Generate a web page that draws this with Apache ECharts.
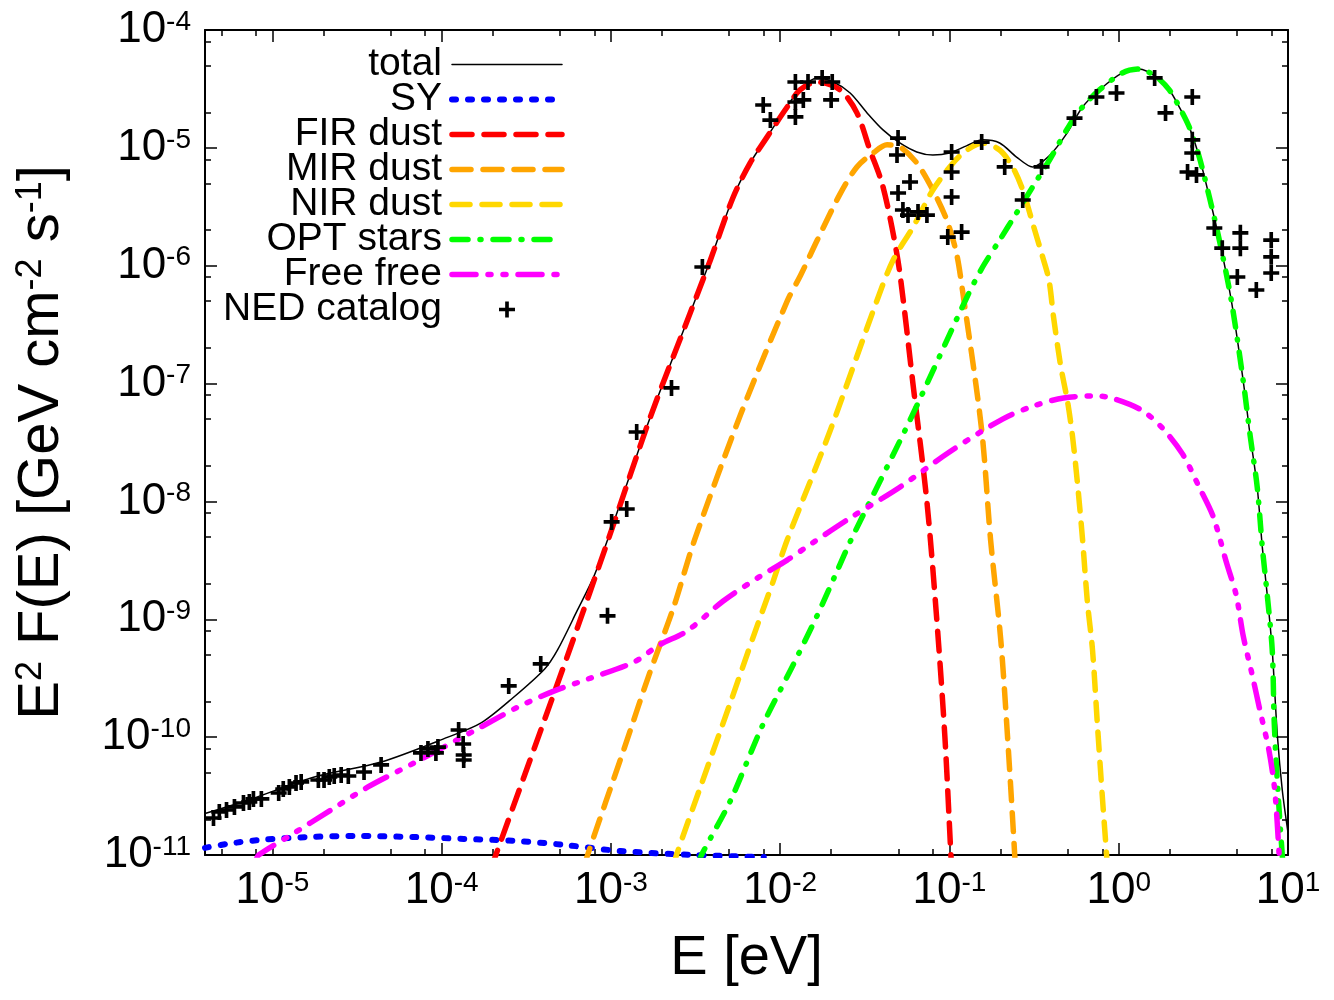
<!DOCTYPE html>
<html>
<head>
<meta charset="utf-8">
<script src="https://cdn.jsdelivr.net/npm/echarts@6.0.0/dist/echarts.min.js"></script>
<style>
  html, body { margin: 0; padding: 0; background: #fff; }
  #chart { width: 1334px; height: 1000px; }
</style>
</head>
<body>
<div id="chart"></div>
<script>
// values, [E (eV), E^2 F(E) (GeV cm^-2 s^-1)]
const totalCurve = [
  [4.0e-6, 2.25e-11], [7.23e-6, 2.93e-11], [1.77e-5, 4.59e-11], [4.39e-5, 6.15e-11],
  [1.09e-4, 1.0e-10], [1.71e-4, 1.32e-10], [2.67e-4, 2.19e-10], [4.06e-4, 3.79e-10],
  [4.84e-4, 5.5e-10], [6.35e-4, 1.2e-9], [7.91e-4, 2.29e-9], [9.55e-4, 4.71e-9],
  [1.71e-3, 5.2e-8], [2.94e-3, 3.97e-7], [3.87e-3, 1.12e-6], [5.28e-3, 3.83e-6],
  [6.65e-3, 7.45e-6], [8.38e-3, 1.24e-5], [1.1e-2, 2.25e-5], [1.31e-2, 3.15e-5],
  [1.65e-2, 3.92e-5], [2.06e-2, 3.62e-5], [2.59e-2, 2.92e-5], [3.26e-2, 1.98e-5],
  [4.05e-2, 1.42e-5], [5.09e-2, 1.1e-5], [6.41e-2, 9.23e-6], [7.98e-2, 8.69e-6],
  [0.1, 9.04e-6], [0.126, 1.04e-5], [0.157, 1.17e-5], [0.198, 1.1e-5],
  [0.249, 8.36e-6], [0.31, 6.88e-6], [0.39, 8.6e-6], [0.489, 1.3e-5],
  [0.611, 2.22e-5], [0.769, 3.1e-5], [1.05, 4.32e-5], [1.32, 4.67e-5],
  [1.67, 3.99e-5], [1.99, 3.1e-5], [2.28, 2.22e-5], [2.61, 1.5e-5],
  [2.99, 8.36e-6], [3.43, 3.83e-6], [3.93, 1.65e-6], [4.62, 5.12e-7],
  [5.43, 1.07e-7], [5.98, 3.59e-8], [6.58, 1.32e-8], [7.05, 4.1e-9],
  [7.54, 1.61e-9], [8.07, 5.48e-10], [8.65, 1.04e-10], [9.25, 3.56e-11], [10, 1.55e-11]
];

const syCurve = [
  [4.0e-6, 1.15e-11], [5.36e-6, 1.24e-11], [8.39e-6, 1.34e-11], [1.63e-5, 1.42e-11],
  [3.04e-5, 1.45e-11], [6.87e-5, 1.42e-11], [1.35e-4, 1.37e-11], [2.67e-4, 1.32e-11],
  [5.26e-4, 1.22e-11], [1.14e-3, 1.08e-11], [3.12e-3, 1.0e-11], [8.0e-3, 9.6e-12]
];

const firCurve = [
  [1.95e-4, 7.6e-12], [2.09e-4, 1.0e-11], [5.78e-4, 5.82e-10], [9.95e-4, 5.4e-9],
  [1.71e-3, 5.2e-8], [2.94e-3, 3.97e-7], [3.87e-3, 1.12e-6], [5.28e-3, 3.83e-6],
  [6.65e-3, 7.45e-6], [8.38e-3, 1.24e-5], [1.1e-2, 2.22e-5], [1.31e-2, 3.1e-5],
  [1.65e-2, 3.62e-5], [2.26e-2, 3.1e-5], [2.84e-2, 1.98e-5], [3.39e-2, 9.59e-6],
  [3.99e-2, 5.04e-6], [4.57e-2, 2.13e-6], [5.09e-2, 8.67e-7], [6.08e-2, 1.01e-7],
  [7.35e-2, 1.01e-8], [8.41e-2, 1.01e-9], [9.4e-2, 1.0e-10], [0.102, 1.0e-11], [0.104, 6e-12]
];

const mirCurve = [
  [7.0e-4, 8e-12], [7.28e-4, 1.0e-11], [1.19e-3, 7.78e-11], [1.67e-3, 3.3e-10],
  [2.34e-3, 1.25e-9], [3.12e-3, 4.71e-9], [5.82e-3, 5.41e-8], [1.1e-2, 5.0e-7],
  [1.32e-2, 8.3e-7], [1.66e-2, 1.66e-6], [2.26e-2, 4.07e-6], [2.84e-2, 6.89e-6],
  [3.54e-2, 9.04e-6], [4.28e-2, 1.06e-5], [5.09e-2, 1.02e-5], [6.41e-2, 7.45e-6],
  [7.98e-2, 4.39e-6], [9.64e-2, 2.44e-6], [0.11, 1.28e-6], [0.12, 5.87e-7],
  [0.155, 4.04e-8], [0.175, 4.71e-9], [0.201, 6.67e-10], [0.221, 9.46e-11],
  [0.243, 1.0e-11], [0.247, 6e-12]
];

const nirCurve = [
  [2.35e-3, 8e-12], [2.44e-3, 1.0e-11], [3.43e-3, 4.01e-11], [5.07e-3, 1.95e-10],
  [7.12e-3, 7.9e-10], [9.1e-3, 2.11e-9], [1.1e-2, 4.71e-9], [1.98e-2, 4.04e-8],
  [3.74e-2, 5.12e-7], [4.65e-2, 1.12e-6], [6.1e-2, 2.13e-6], [7.98e-2, 4.39e-6],
  [0.105, 7.45e-6], [0.127, 9.59e-6], [0.157, 1.1e-5], [0.198, 9.59e-6],
  [0.236, 6.88e-6], [0.271, 4.39e-6], [0.31, 2.3e-6], [0.355, 1.19e-6],
  [0.387, 7.57e-7], [0.412, 3.67e-7], [0.453, 1.44e-7], [0.499, 6.98e-8],
  [0.533, 3.59e-8], [0.571, 1.41e-8], [0.611, 4.8e-9], [0.653, 1.4e-9],
  [0.7, 5.5e-10], [0.748, 1.29e-10], [0.801, 3.05e-11], [0.847, 1.02e-11], [0.86, 7e-12]
];

const optCurve = [
  [3.3e-3, 8.5e-12], [3.43e-3, 1.0e-11], [5.07e-3, 2.87e-11], [7.83e-3, 1.24e-10],
  [1.16e-2, 3.79e-10], [1.63e-2, 1.03e-9], [2.17e-2, 2.57e-9], [2.62e-2, 4.71e-9],
  [5.85e-2, 4.91e-8], [0.127, 5.43e-7], [0.157, 9.75e-7], [0.198, 1.65e-6],
  [0.249, 2.8e-6], [0.31, 4.66e-6], [0.39, 7.89e-6], [0.512, 1.56e-5],
  [0.611, 2.22e-5], [0.769, 3.1e-5], [1.05, 4.32e-5], [1.32, 4.67e-5],
  [1.67, 3.99e-5], [1.99, 3.1e-5], [2.28, 2.22e-5], [2.61, 1.5e-5],
  [2.99, 8.36e-6], [3.43, 3.83e-6], [3.93, 1.65e-6], [4.62, 5.12e-7],
  [5.43, 1.07e-7], [5.98, 3.59e-8], [6.58, 1.32e-8], [7.05, 4.1e-9],
  [7.54, 1.61e-9], [8.07, 5.48e-10], [8.3, 1.29e-10], [8.77, 3.05e-11],
  [9.25, 1.0e-11], [9.5, 6e-12]
];

const ffCurve = [
  [8.0e-6, 9e-12], [8.3e-6, 1.0e-11], [1.29e-5, 1.48e-11], [2.22e-5, 2.41e-11],
  [3.67e-5, 3.78e-11], [6.87e-5, 6.04e-11], [1.03e-4, 8.24e-11], [1.71e-4, 1.22e-10],
  [2.82e-4, 1.8e-10], [4.48e-4, 2.42e-10], [7.3e-4, 3.11e-10], [1.37e-3, 4.34e-10],
  [1.93e-3, 6.05e-10], [2.82e-3, 7.96e-10], [4.61e-3, 1.43e-9], [7.52e-3, 2.29e-9],
  [1.1e-2, 3.18e-9], [1.55e-2, 4.44e-9], [2.59e-2, 7.24e-9], [5.09e-2, 1.32e-8],
  [0.1, 2.63e-8], [0.206, 5.0e-8], [0.314, 6.46e-8], [0.472, 7.55e-8],
  [0.719, 7.85e-8], [0.906, 7.55e-8], [1.36, 5.97e-8], [1.81, 4.2e-8],
  [2.38, 2.53e-8], [2.99, 1.32e-8], [3.62, 7.38e-9], [4.32, 3.06e-9],
  [4.94, 1.61e-9], [5.44, 7.21e-10], [6.11, 3.5e-10], [6.82, 1.7e-10],
  [7.71, 7.78e-11], [8.36, 3.49e-11], [8.87, 1.0e-11], [9.0, 7e-12]
];

const nedPoints = [
  [4.49e-6, 2.06e-11], [4.86e-6, 2.32e-11], [5.36e-6, 2.41e-11], [5.97e-6, 2.56e-11],
  [6.75e-6, 2.76e-11], [7.31e-6, 2.82e-11], [7.73e-6, 2.99e-11], [8.61e-6, 2.99e-11],
  [1.09e-5, 3.36e-11], [1.16e-5, 3.63e-11], [1.26e-5, 3.78e-11], [1.38e-5, 4.08e-11],
  [1.48e-5, 4.17e-11], [1.87e-5, 4.33e-11], [2.02e-5, 4.33e-11], [2.17e-5, 4.59e-11],
  [2.32e-5, 4.68e-11], [2.55e-5, 4.77e-11], [2.81e-5, 4.68e-11], [3.48e-5, 5.06e-11],
  [4.39e-5, 5.81e-11], [7.55e-5, 7.35e-11], [8.3e-5, 7.94e-11], [9.25e-5, 7.35e-11],
  [9.51e-5, 8.24e-11], [1.26e-4, 1.15e-10], [1.34e-4, 8.75e-11], [1.35e-4, 7.06e-11],
  [1.35e-4, 6.4e-11], [2.49e-4, 2.72e-10], [3.85e-4, 4.18e-10], [9.55e-4, 1.07e-9],
  [1.01e-3, 6.7e-9], [1.24e-3, 8.63e-9], [1.42e-3, 3.88e-8], [2.28e-3, 9.18e-8],
  [3.47e-3, 9.75e-7], [7.94e-3, 2.31e-5], [8.75e-3, 1.72e-5], [1.23e-2, 3.62e-5],
  [1.46e-2, 3.62e-5], [1.77e-2, 3.92e-5], [2.03e-2, 3.62e-5], [1.23e-2, 2.45e-5],
  [1.37e-2, 2.55e-5], [1.23e-2, 1.83e-5], [2.0e-2, 2.55e-5], [4.97e-2, 1.21e-5],
  [4.9e-2, 8.7e-6], [5.85e-2, 5.13e-6], [4.97e-2, 4.14e-6], [5.31e-2, 2.97e-6],
  [5.69e-2, 2.69e-6], [6.52e-2, 2.86e-6], [7.36e-2, 2.69e-6], [0.103, 9.23e-6],
  [0.103, 6.24e-6], [0.103, 3.83e-6], [0.0977, 1.75e-6], [0.118, 1.93e-6],
  [0.155, 1.12e-5], [0.212, 6.89e-6], [0.271, 3.61e-6], [0.35, 6.89e-6],
  [0.548, 1.79e-5], [0.738, 2.7e-5], [0.97, 2.92e-5], [1.63, 3.92e-5],
  [1.89, 1.98e-5], [2.72, 2.7e-5], [2.72, 1.17e-5], [2.72, 9.04e-6],
  [2.55, 6.24e-6], [2.88, 5.89e-6], [3.67, 2.09e-6], [4.09, 1.41e-6],
  [5.23, 1.9e-6], [5.23, 1.41e-6], [5.02, 8.02e-7], [6.5, 6.22e-7],
  [7.96, 1.65e-6], [7.96, 1.19e-6], [7.96, 8.67e-7]
];

const xMajor = [1e-5, 1e-4, 1e-3, 1e-2, 1e-1, 1, 10];
const yMajor = [1e-11, 1e-10, 1e-9, 1e-8, 1e-7, 1e-6, 1e-5, 1e-4];
const minorSteps = [2, 5, 8];
const legendNames = ['total', 'SY', 'FIR dust', 'MIR dust', 'NIR dust', 'OPT stars', 'Free free', 'NED catalog'];

const FONT = '"Liberation Sans", Arial, Helvetica, sans-serif';
const X_MIN = 4e-6, X_MAX = 10, Y_MIN = 1e-11, Y_MAX = 1e-4;

function minorTicks(fromExp, toExp, lo, hi) {
  var out = [];
  for (var d = fromExp; d < toExp; d++) {
    minorSteps.forEach(function (m) {
      var v = m * Math.pow(10, d);
      if (v > lo && v < hi) out.push(v);
    });
  }
  return out;
}
const xMinor = minorTicks(-6, 1, X_MIN, X_MAX);
const yMinor = minorTicks(-11, -4, Y_MIN, Y_MAX);

function powLabel(v) {
  return '{b|10}{s|' + Math.round(Math.log10(v)) + '}';
}

var labelRich = {
  b: { fontSize: 44, fontFamily: FONT, color: '#000' },
  s: { fontSize: 28, fontFamily: FONT, color: '#000', verticalAlign: 'top' }
};

function makeAxis(kind, position, major, withLabels) {
  var isX = kind === 'x';
  var ax = {
    type: 'log',
    logBase: 10,
    min: isX ? X_MIN : Y_MIN,
    max: isX ? X_MAX : Y_MAX,
    position: position,
    splitLine: { show: false },
    axisLine: { show: major, lineStyle: { color: '#000', width: 2 } },
    axisTick: {
      show: true,
      inside: true,
      length: major ? 12 : 6,
      customValues: major ? (isX ? xMajor : yMajor) : (isX ? xMinor : yMinor),
      lineStyle: { color: '#000', width: 1.5 }
    },
    axisLabel: { show: false }
  };
  if (withLabels) {
    ax.axisLabel = {
      show: true,
      customValues: isX ? xMajor : yMajor,
      margin: 14,
      formatter: powLabel,
      rich: labelRich
    };
  }
  return ax;
}

var xBottom = makeAxis('x', 'bottom', true, true);
xBottom.name = 'E [eV]';
xBottom.nameLocation = 'middle';
xBottom.nameGap = 76;
xBottom.nameTextStyle = { fontSize: 56, fontFamily: FONT, color: '#000' };

var yLeft = makeAxis('y', 'left', true, true);
yLeft.name = 'E{s|2} F(E) [GeV cm{s|-2} s{s|-1}]';
yLeft.nameLocation = 'middle';
yLeft.nameRotate = 90;
yLeft.nameGap = 134;
yLeft.nameTextStyle = {
  fontSize: 58, fontFamily: FONT, color: '#000',
  rich: { s: { fontSize: 36, fontFamily: FONT, color: '#000', verticalAlign: 'top' } }
};

function lineSeries(name, data, color, width, dash) {
  return {
    name: name,
    type: 'line',
    data: data,
    symbol: 'none',
    smooth: 0.3,
    color: color,
    clip: true,
    lineStyle: { color: color, width: width, type: dash, cap: 'round', join: 'round' },
    emphasis: { disabled: true }
  };
}

const plusPath = 'path://M-1.6,-7L1.6,-7L1.6,-1.6L7,-1.6L7,1.6L1.6,1.6L1.6,7L-1.6,7L-1.6,1.6L-7,1.6L-7,-1.6L-1.6,-1.6Z';

// line entries hide the dot ECharts puts in the middle of the legend line
var legendData = legendNames.map(function (n) {
  if (n === 'NED catalog') return { name: n };
  return { name: n, itemStyle: { color: 'rgba(0,0,0,0)', borderWidth: 0, opacity: 0 } };
});

var chart = echarts.init(document.getElementById('chart'));
var option = {
  animation: false,
  backgroundColor: '#fff',
  grid: { left: 205, right: 46, top: 30, bottom: 145 },
  legend: {
    orient: 'vertical',
    align: 'right',
    right: 769,
    top: 45,
    padding: 0,
    itemGap: -4,
    itemWidth: 110,
    itemHeight: 16,
    selectedMode: false,
    textStyle: { fontFamily: FONT, fontSize: 39, color: '#000', padding: [0, 5, 0, 0] },
    lineStyle: { width: 'inherit', cap: 'round' },
    data: legendData
  },
  xAxis: [
    xBottom,
    makeAxis('x', 'bottom', false, false),
    makeAxis('x', 'top', true, false),
    makeAxis('x', 'top', false, false)
  ],
  yAxis: [
    yLeft,
    makeAxis('y', 'left', false, false),
    makeAxis('y', 'right', true, false),
    makeAxis('y', 'right', false, false)
  ],
  series: [
    lineSeries('total', totalCurve, '#000000', 1.5, 'solid'),
    lineSeries('SY', syCurve, '#0000ff', 6, [4, 12]),
    lineSeries('FIR dust', firCurve, '#ff0000', 5.5, [20, 12]),
    lineSeries('MIR dust', mirCurve, '#ffa500', 5.5, [19, 12]),
    lineSeries('NIR dust', nirCurve, '#ffd700', 5.5, [18, 12]),
    lineSeries('OPT stars', optCurve, '#00ff00', 5.5, [16, 12, 1, 12]),
    lineSeries('Free free', ffCurve, '#ff00ff', 5.5, [24, 12, 3, 12, 3, 12]),
    {
      name: 'NED catalog',
      type: 'scatter',
      data: nedPoints,
      symbol: plusPath,
      symbolSize: 16,
      color: '#000',
      itemStyle: { color: '#000', opacity: 1 },
      emphasis: { disabled: true },
      z: 5
    }
  ]
};
chart.setOption(option);
</script>
</body>
</html>
